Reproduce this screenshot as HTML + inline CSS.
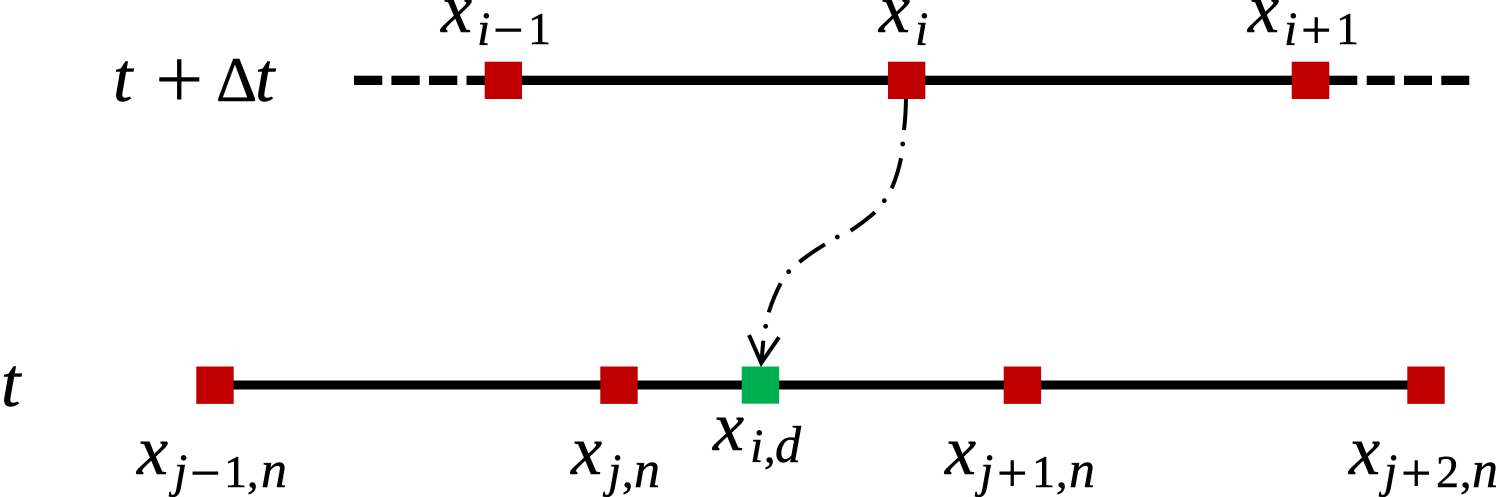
<!DOCTYPE html>
<html>
<head>
<meta charset="utf-8">
<style>
html,body{margin:0;padding:0;background:#fff;width:1500px;height:497px;overflow:hidden}
svg{display:block}
text{font-family:"Liberation Serif",serif;fill:#000;stroke:#000;stroke-width:.5px}
.m{font-size:70px;font-style:italic}
.t{font-size:70px;font-style:italic}
.s{font-size:48px;font-style:italic}
.n{font-size:52px;font-style:italic}
.r{font-size:46px;font-style:normal}
.o{font-size:54px;font-style:normal}
.p{font-size:86px;font-style:normal;stroke-width:0}
.b{font-size:64px;font-style:normal}
</style>
</head>
<body>
<svg width="1500" height="497" viewBox="0 0 1500 497" xmlns="http://www.w3.org/2000/svg">
<!-- top line -->
<g fill="#000">
<rect x="354" y="75.7" width="28.3" height="9.3"/>
<rect x="391.4" y="75.7" width="28.3" height="9.3"/>
<rect x="429" y="75.7" width="28.3" height="9.3"/>
<rect x="466.5" y="75.7" width="20" height="9.3"/>
<rect x="520" y="75.7" width="837.3" height="9.3"/>
<rect x="1366.7" y="75.7" width="28" height="9.3"/>
<rect x="1404" y="75.7" width="28" height="9.3"/>
<rect x="1441.3" y="75.7" width="28" height="9.3"/>
<rect x="215" y="380.5" width="1211" height="9"/>
</g>
<!-- connector -->
<g fill="none" stroke="#000" stroke-width="4">
<path d="M906 98 Q905.8 115 904 130"/>
<path d="M901 158.3 Q898 174 891.7 188.3"/>
<path d="M875 212.3 Q864 222 850.7 230.7"/>
<path d="M825 244.3 Q812 252 799.3 262"/>
<path d="M780.7 283.3 Q773.5 297 768.7 312.3"/>
<path d="M763.3 340.7 L761.3 363"/>
<path d="M749 335 L761.3 363 L779 337.3"/>
</g>
<g fill="#000">
<circle cx="902.7" cy="144" r="2.4"/>
<circle cx="884.3" cy="200.7" r="2.4"/>
<circle cx="837.3" cy="237" r="2.4"/>
<circle cx="788.7" cy="271.7" r="2.4"/>
<circle cx="765.7" cy="326.3" r="2.4"/>
</g>
<!-- nodes -->
<g fill="#c00000">
<rect x="484.7" y="61.7" width="37.3" height="37.3"/>
<rect x="888" y="61.7" width="37.3" height="37.3"/>
<rect x="1291.7" y="61.7" width="37.6" height="37.3"/>
<rect x="196.3" y="366.5" width="37.4" height="37.4"/>
<rect x="600.3" y="366.5" width="37.4" height="37.4"/>
<rect x="1003.7" y="366.5" width="37.4" height="37.4"/>
<rect x="1407.3" y="366.5" width="37.4" height="37.4"/>
</g>
<rect x="741.7" y="366.5" width="37.4" height="37.2" fill="#00b050"/>
<!-- row labels -->
<text class="t" x="113" y="101">t</text>
<text class="p" x="155" y="108">+</text>
<text class="b" x="216" y="101">Δ</text>
<text class="t" x="255" y="101">t</text>
<text class="t" x="1" y="406">t</text>
<!-- x_{i-1} -->
<text class="m" x="441" y="32">x</text>
<text class="s" x="477" y="45">i</text>
<text class="o" x="493" y="48">−</text>
<text class="r" x="528" y="44">1</text>
<!-- x_i -->
<text class="m" x="879" y="32">x</text>
<text class="s" x="915" y="45">i</text>
<!-- x_{i+1} -->
<text class="m" x="1248" y="32">x</text>
<text class="s" x="1284" y="45">i</text>
<text class="o" x="1301" y="48">+</text>
<text class="r" x="1336" y="44">1</text>
<!-- x_{j-1,n} -->
<text class="m" x="137" y="474">x</text>
<text class="s" x="174" y="487">j</text>
<text class="o" x="190" y="491">−</text>
<text class="r" x="224" y="487">1</text>
<text class="r" x="247" y="487">,</text>
<text class="n" x="261" y="487">n</text>
<!-- x_{j,n} -->
<text class="m" x="571" y="474">x</text>
<text class="s" x="608" y="487">j</text>
<text class="r" x="622" y="487">,</text>
<text class="n" x="634" y="487">n</text>
<!-- x_{i,d} -->
<text class="m" x="713" y="450">x</text>
<text class="s" x="750" y="462">i</text>
<text class="r" x="764" y="462">,</text>
<text class="n" x="775" y="462">d</text>
<!-- x_{j+1,n} -->
<text class="m" x="945" y="474">x</text>
<text class="s" x="980" y="487">j</text>
<text class="o" x="997" y="491">+</text>
<text class="r" x="1032" y="487">1</text>
<text class="r" x="1056" y="487">,</text>
<text class="n" x="1069" y="487">n</text>
<!-- x_{j+2,n} -->
<text class="m" x="1349" y="474">x</text>
<text class="s" x="1384" y="487">j</text>
<text class="o" x="1401" y="491">+</text>
<text class="r" x="1436" y="487">2</text>
<text class="r" x="1460" y="487">,</text>
<text class="n" x="1472" y="487">n</text>
</svg>
</body>
</html>
